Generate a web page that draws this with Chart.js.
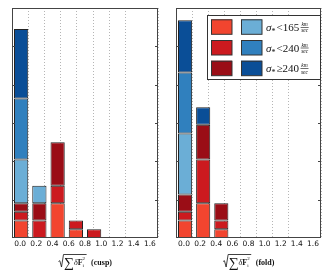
<!DOCTYPE html>
<html>
<head>
<meta charset="utf-8">
<script src="https://cdn.jsdelivr.net/npm/chart.js@4.4.1/dist/chart.umd.min.js"></script>
<style>
    html, body { margin: 0; padding: 0; background: #fff; width: 334px; height: 275px; overflow: hidden; }
    canvas { position: absolute; top: 0; }
    #cusp { left: 0; }
    #fold { left: 167px; }
</style>
</head>
<body>
<canvas id="cusp" width="167" height="275"></canvas>
<canvas id="fold" width="167" height="275"></canvas>
<script>
/* histogram bins of sqrt(sum dF_i^2), width 0.2 */
const bins = ['0.0-0.2', '0.2-0.4', '0.4-0.6', '0.6-0.8', '0.8-1.0', '1.0-1.2', '1.2-1.4', '1.4-1.6'];
const xTickLabels = ['0.0', '0.2', '0.4', '0.6', '0.8', '1.0', '1.2', '1.4', '1.6'];
const yTicks = [0, 4.4, 8.8, 13.2, 17.6, 22, 26.4];

// legend rows (velocity dispersion cuts)
const sigmaOps = ['<', '<', '≥'];
const sigmaCuts = ['165', '240', '240'];

// cusp panel, stacked counts (red column then blue column)
const cuspRed165  = [2, 0, 4, 1, 0, 0, 0, 0];
const cuspRed240  = [1, 2, 2, 1, 1, 0, 0, 0];
const cuspRedHi   = [1, 2, 5, 0, 0, 0, 0, 0];
const cuspBlue165 = [5, 2, 0, 0, 0, 0, 0, 0];
const cuspBlue240 = [7, 0, 0, 0, 0, 0, 0, 0];
const cuspBlueHi  = [8, 0, 0, 0, 0, 0, 0, 0];

// fold panel
const foldRed165  = [2, 4, 1, 0, 0, 0, 0, 0];
const foldRed240  = [1, 5, 1, 0, 0, 0, 0, 0];
const foldRedHi   = [2, 4, 2, 0, 0, 0, 0, 0];
const foldBlue165 = [7, 0, 0, 0, 0, 0, 0, 0];
const foldBlue240 = [7, 0, 0, 0, 0, 0, 0, 0];
const foldBlueHi  = [6, 2, 0, 0, 0, 0, 0, 0];

const COLORS = ['#f2452f', '#cc1a1f', '#9a0d16', '#6baed6', '#3080be', '#0a4e97'];
const SERIF = '"Liberation Serif", "DejaVu Serif", serif';

function makeDatasets(series) {
    return series.map((d, i) => ({
        data: d.map(v => v || null),
        backgroundColor: COLORS[i],
        borderColor: '#222',
        borderWidth: 1,
        borderSkipped: false,
        barPercentage: 0.78,
        categoryPercentage: 1.0
    }));
}

function drawAxisTitle(ctx, cx, cy, word) {
    ctx.save();
    ctx.fillStyle = '#111';
    ctx.strokeStyle = '#111';
    ctx.textBaseline = 'alphabetic';
    const base = cy + 4;
    const fSum = '14px ' + SERIF, fDel = 'italic 8px ' + SERIF, fF = 'bold 8px ' + SERIF;
    const fScr = '5px ' + SERIF, fWord = 'bold 8px ' + SERIF;
    ctx.font = fSum; const wSum = ctx.measureText('∑').width;
    ctx.font = fDel; const wDel = ctx.measureText('δ').width;
    ctx.font = fF; const wF = ctx.measureText('F').width;
    ctx.font = fWord; const wWord = ctx.measureText('(' + word + ')').width;
    const radW = 5, scrW = 3.5, gap = 5;
    const total = radW + wSum + wDel + wF + scrW + gap + wWord;
    let x = cx - total / 2;

    // radical sign with overbar
    ctx.lineWidth = 0.8;
    ctx.beginPath();
    ctx.moveTo(x, cy + 0.5);
    ctx.lineTo(x + 1.3, cy - 0.3);
    ctx.lineTo(x + 3, cy + 6);
    ctx.lineTo(x + radW, cy - 6.5);
    ctx.lineTo(x + radW + wSum + wDel + wF + scrW + 1, cy - 6.5);
    ctx.stroke();
    x += radW + 0.5;

    ctx.font = fSum; ctx.fillText('∑', x, base + 1.5); x += wSum;
    ctx.font = fDel; ctx.fillText('δ', x, base); x += wDel;
    ctx.font = fF; ctx.fillText('F', x, base); x += wF;
    ctx.font = fScr;
    ctx.fillText('2', x, base - 5);
    ctx.fillText('i', x, base + 1.5);
    x += scrW + gap;
    ctx.font = fWord; ctx.fillText('(' + word + ')', x, base);
    ctx.restore();
}

function drawLegend(ctx, area) {
    const x0 = area.right - 114, y0 = area.top + 7, w = 113, h = 64;
    ctx.save();
    ctx.fillStyle = '#fff';
    ctx.fillRect(x0, y0, w, h);
    ctx.strokeStyle = '#333';
    ctx.lineWidth = 1;
    ctx.strokeRect(Math.round(x0) + 0.5, Math.round(y0) + 0.5, w, h);
    const rowTop = [y0 + 4.3, y0 + 25, y0 + 45.7];
    for (let r = 0; r < 3; r++) {
        const ty = rowTop[r];
        [[x0 + 4, COLORS[r]], [x0 + 34, COLORS[r + 3]]].forEach(([sx, c]) => {
            ctx.fillStyle = c;
            ctx.fillRect(sx, ty, 21, 15);
            ctx.strokeStyle = '#333';
            ctx.strokeRect(sx + 0.5, ty + 0.5, 20.5, 14.5);
        });
        // sigma_* <cut km/sec
        const base = ty + 11.5;
        let x = x0 + 59;
        ctx.fillStyle = '#111';
        ctx.font = 'italic 11px ' + SERIF;
        ctx.fillText('σ', x, base); x += ctx.measureText('σ').width;
        ctx.font = '8px ' + SERIF;
        ctx.fillText('*', x, base + 3); x += ctx.measureText('*').width + 1;
        ctx.font = '11px ' + SERIF;
        ctx.fillText(sigmaOps[r], x, base); x += ctx.measureText(sigmaOps[r]).width;
        ctx.fillText(sigmaCuts[r], x, base); x += ctx.measureText(sigmaCuts[r]).width + 1.5;
        ctx.font = 'italic 5.5px ' + SERIF;
        const wk = ctx.measureText('km').width, ws = ctx.measureText('sec').width;
        const fw = Math.max(wk, ws) + 1;
        ctx.fillText('km', x + (fw - wk) / 2, base - 5);
        ctx.fillRect(x, base - 3.8, fw, 0.6);
        ctx.fillText('sec', x + (fw - ws) / 2, base + 1.5);
    }
    ctx.restore();
}

const framePlugin = {
    id: 'frame',
    afterDraw(chart, args, opts) {
        const { ctx, chartArea: a } = chart;
        const ys = chart.scales.y;
        ctx.save();
        ctx.strokeStyle = '#444';
        ctx.lineWidth = 1;
        ctx.strokeRect(a.left + 0.5, a.top + 0.5, a.right - a.left - 1, a.bottom - a.top - 1);
        // inward y tick marks on both spines
        ctx.beginPath();
        yTicks.slice(1, -1).forEach(v => {
            const py = Math.round(ys.getPixelForValue(v)) + 0.5;
            ctx.moveTo(a.left, py); ctx.lineTo(a.left + 3, py);
            ctx.moveTo(a.right - 3, py); ctx.lineTo(a.right, py);
        });
        ctx.stroke();
        ctx.restore();
        drawAxisTitle(ctx, (a.left + a.right) / 2, 261, opts.word);
        if (opts.legend) drawLegend(ctx, a);
    }
};

function createPanel(canvasId, series, word, padL, padR, legend) {
    return new Chart(document.getElementById(canvasId), {
        type: 'bar',
        data: { labels: bins, datasets: makeDatasets(series) },
        plugins: [framePlugin],
        options: {
            responsive: false, animation: false,
            layout: { padding: { left: padL, right: padR, top: 8, bottom: 0 } },
            plugins: {
                legend: { display: false }, tooltip: { enabled: false },
                frame: { word, legend }
            },
            scales: {
                x: { type: 'category', display: false, stacked: true, offset: true },
                x2: {
                    type: 'linear', position: 'bottom', min: 0, max: 1.6,
                    ticks: {
                        stepSize: 0.2, autoSkip: false, maxRotation: 0, padding: 2,
                        color: '#111', font: { family: '"DejaVu Sans", sans-serif', size: 7.5 },
                        callback: (v, i) => xTickLabels[i]
                    },
                    grid: {
                        drawTicks: false, lineWidth: 1,
                        color: c => (c.index === 0 || c.index === xTickLabels.length - 1) ? 'rgba(0,0,0,0)' : '#b5b5b5'
                    },
                    border: { display: false, dash: [1, 2] },
                    afterFit: s => { s.height = 37; }
                },
                y: { display: false, stacked: true, min: 0, max: yTicks[yTicks.length - 1] }
            }
        }
    });
}

createPanel('cusp', [cuspRed165, cuspRed240, cuspRedHi, cuspBlue165, cuspBlue240, cuspBlueHi], 'cusp', 12, 9, false);
createPanel('fold', [foldRed165, foldRed240, foldRedHi, foldBlue165, foldBlue240, foldBlueHi], 'fold', 9, 13, true);
</script>
</body>
</html>
